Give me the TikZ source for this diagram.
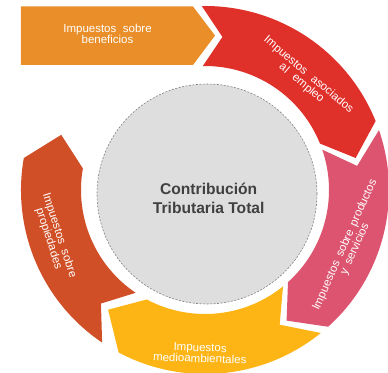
\documentclass[tikz,border=0pt]{standalone}
\usepackage{fontspec}
\setmainfont{Liberation Sans}
\usetikzlibrary{calc}

\definecolor{cOrange}{HTML}{E98E28}
\definecolor{cRed}{HTML}{E0302A}
\definecolor{cPink}{HTML}{DC546F}
\definecolor{cYellow}{HTML}{FDB515}
\definecolor{cRust}{HTML}{D04F27}
\definecolor{cCore}{HTML}{DEDEDE}
\definecolor{cCoreLine}{HTML}{808080}
\definecolor{cCoreText}{HTML}{404040}

% label font with a chosen gap between words
\newcommand{\labelfont}[1]{\fontsize{11.5}{11}\selectfont\spaceskip=#1 plus 1pt minus 1pt\relax}

\begin{document}
\begin{tikzpicture}[x=1pt,y=1pt,
  segtext/.style={text=white, align=center, inner sep=0pt,
    font=\labelfont{6.5pt}},
  coretext/.style={text=cCoreText, align=center, inner sep=0pt,
    font=\fontsize{15.6}{19}\selectfont\bfseries},
  core/.style={circle, fill=cCore, draw=cCoreLine, line width=0.6pt,
    dash pattern=on 2pt off 1.5pt, minimum size=220pt, inner sep=0pt}]

% page frame (ring centre at the origin)
\useasboundingbox (-205,-182) rectangle (183,190);

\pgfmathsetmacro{\Ro}{184}
\pgfmathsetmacro{\Ri}{124}
\pgfmathsetmacro{\Rm}{154}

% straight arrow block at the top left
\fill[cOrange] (-184,183.5) -- (-12,183.5) -- (10,154.5) -- (-12,125) -- (-184,125) -- cycle;

% curved arrow blocks of the ring, clockwise
\fill[cRed] (91:\Ro) arc[start angle=91, end angle=22, radius=\Ro]
  -- (12:\Rm) -- (22:\Ri) arc[start angle=22, end angle=91, radius=\Ri]
  -- (83.5:\Rm) -- cycle;
\fill[cPink] (19:\Ro) arc[start angle=19, end angle=-48, radius=\Ro]
  -- (-58:\Rm) -- (-48:\Ri) arc[start angle=-48, end angle=19, radius=\Ri]
  -- (9:\Rm) -- cycle;
\fill[cYellow] (-51:\Ro) arc[start angle=-51, end angle=-118, radius=\Ro]
  -- (-129:\Rm) -- (-118:\Ri) arc[start angle=-118, end angle=-51, radius=\Ri]
  -- (-61:\Rm) -- cycle;
\fill[cRust] (-124:\Ro) arc[start angle=-124, end angle=-190, radius=\Ro]
  -- (-201:\Rm) -- (-190:\Ri) arc[start angle=-190, end angle=-124, radius=\Ri]
  -- (-132.5:\Rm) -- cycle;

% central circle
\node[core] (ctt) at (2,-4) {};
\node[coretext] (ctttext) at (3.7,-8) {Contribución\\Tributaria Total};

% labels of the blocks
\node[segtext] (tben) at (-97.5,156.5) {Impuestos sobre\\beneficios};
\node[segtext, rotate=-40, font=\labelfont{8pt}] (temp) at (100,111) {Impuestos asociados\\al empleo};
\node[segtext, rotate=66, font=\labelfont{5pt}] (tprod) at (145,-57) {Impuestos sobre productos\\y servicios};
\node[segtext, rotate=-2] (tmed) at (-5,-163) {Impuestos\\medioambientales};
\node[segtext, rotate=-72] (tprop) at (-151,-47) {Impuestos sobre\\propiedades};
\end{tikzpicture}
\end{document}
